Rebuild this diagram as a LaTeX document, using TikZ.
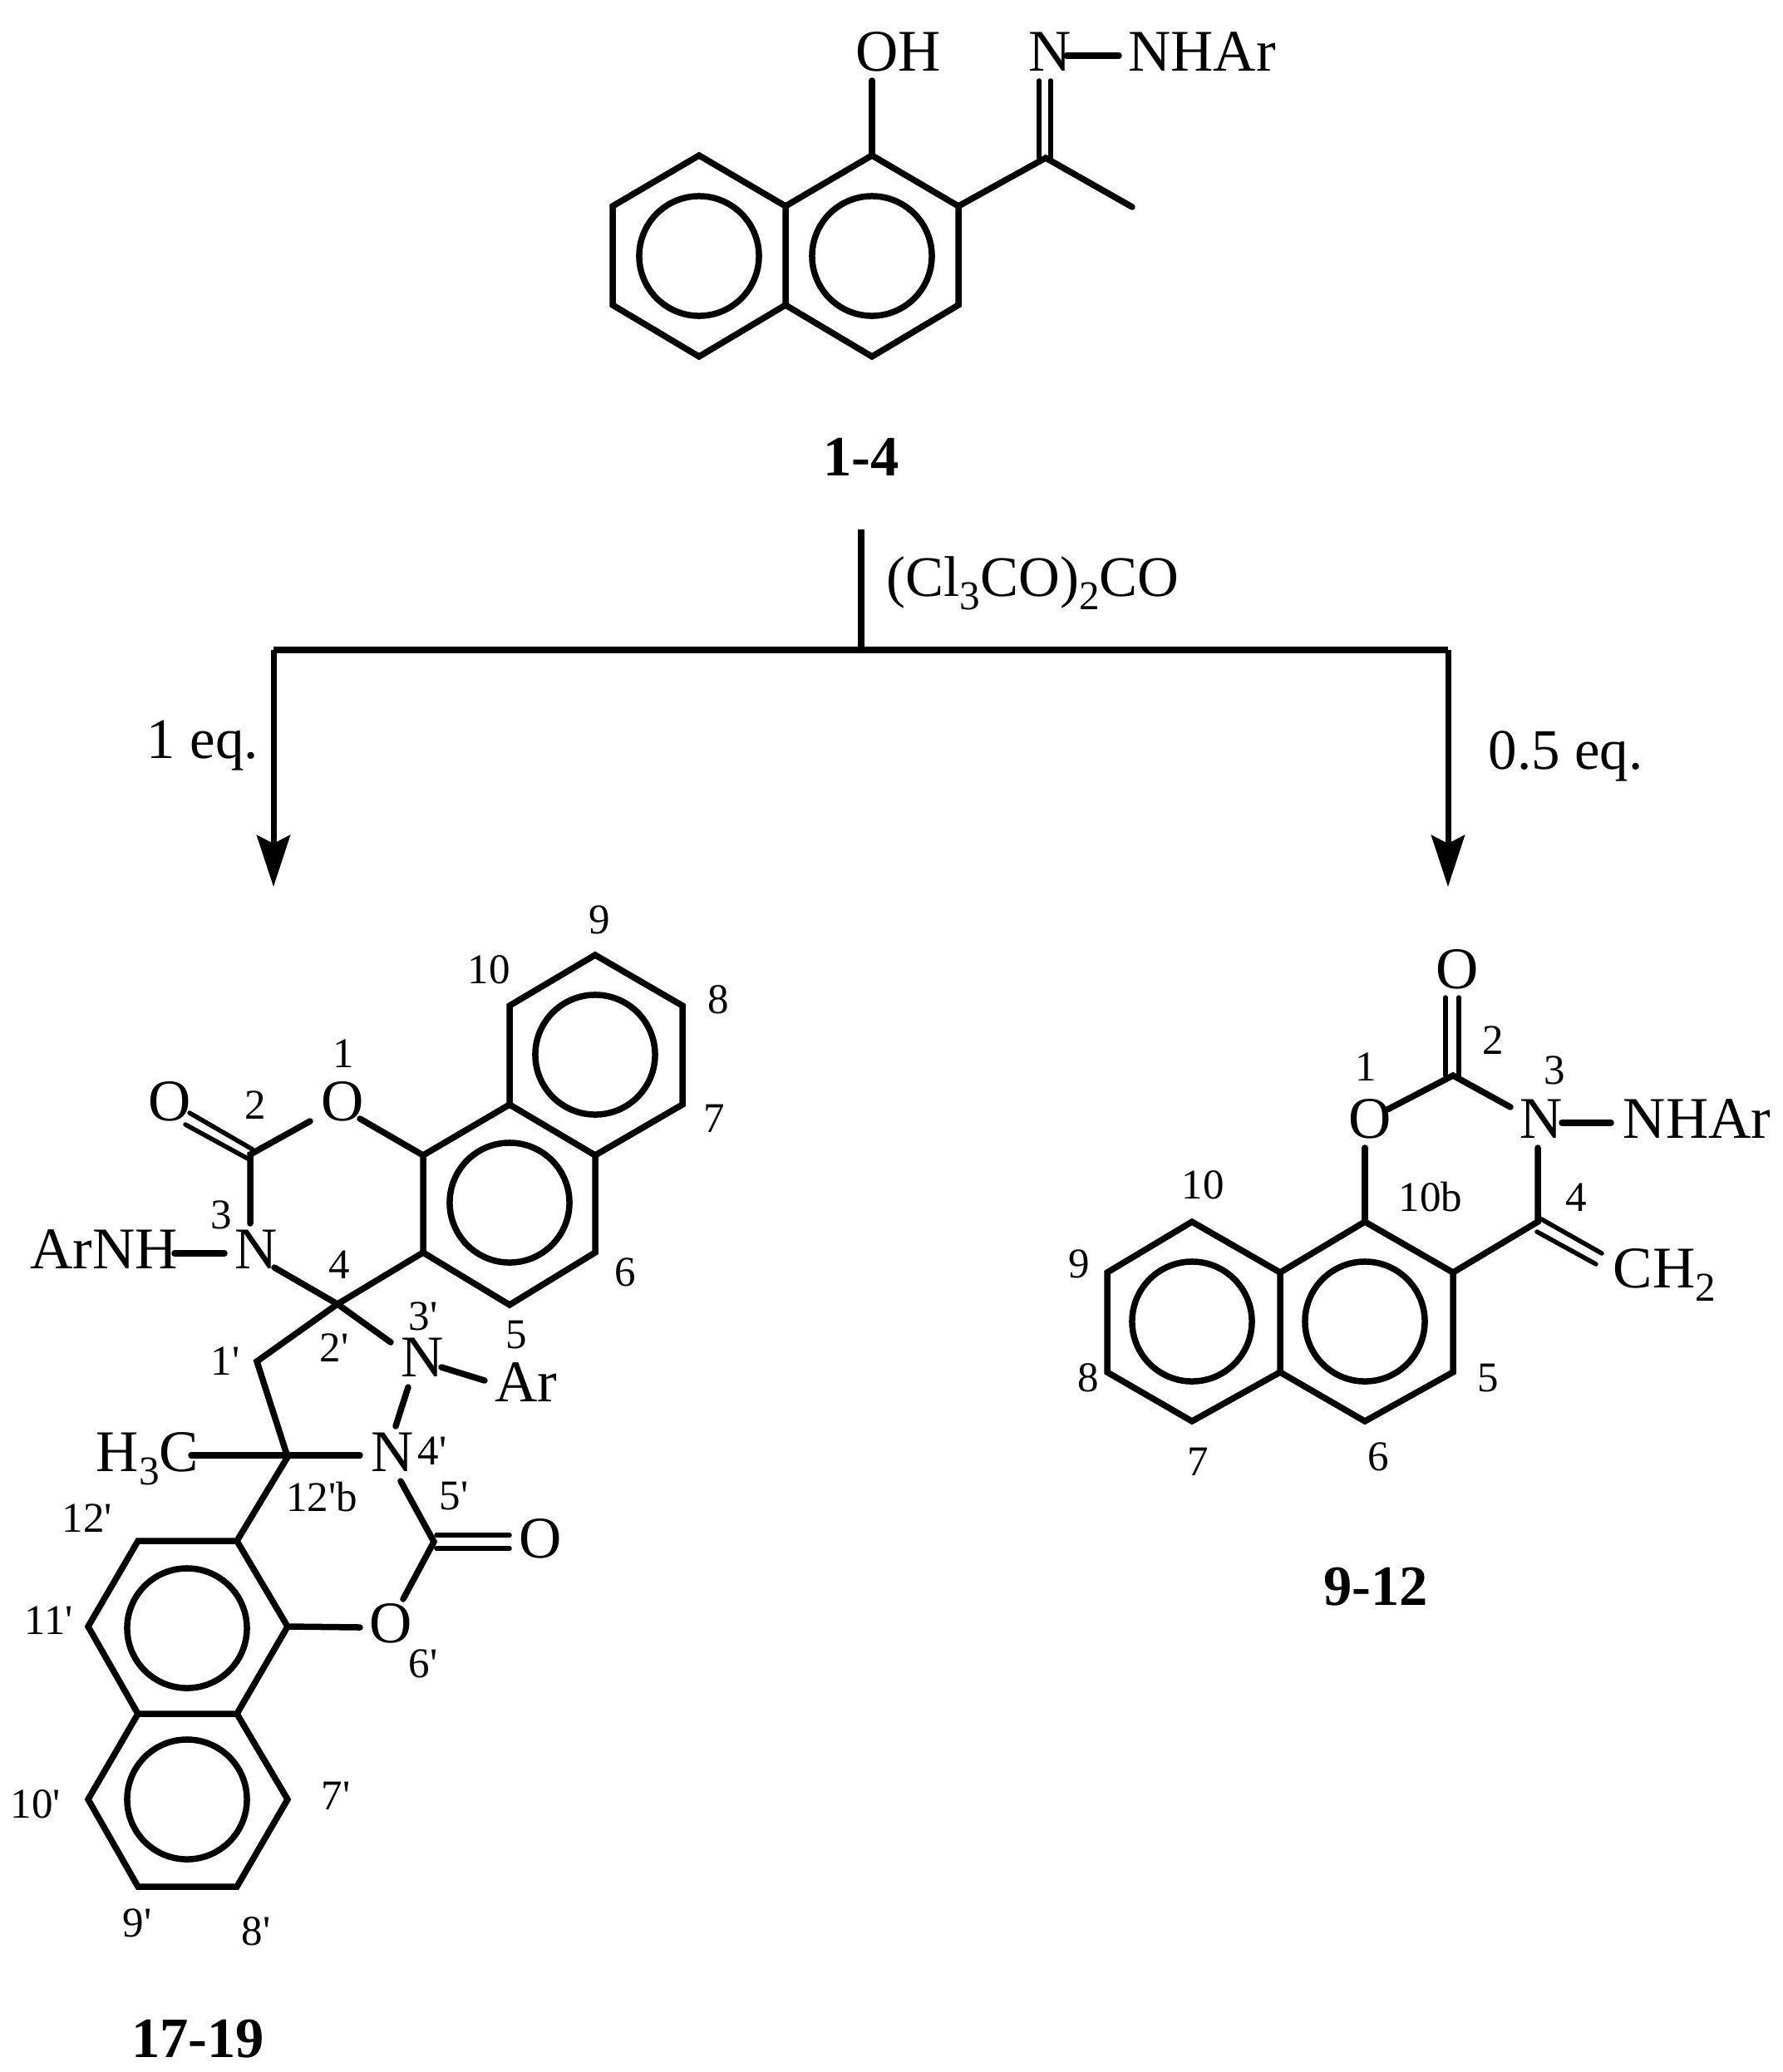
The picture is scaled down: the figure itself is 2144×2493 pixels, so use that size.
\documentclass[tikz,border=0pt]{standalone}
\usepackage{fontspec}
\setmainfont{Liberation Serif}
\usetikzlibrary{arrows.meta}
\newcommand{\pr}{\textquotesingle}
\newcommand{\sbs}[1]{\raisebox{-0.16cm}{\fontsize{14}{14}\selectfont #1}}
\tikzset{bond/.style={line width=0.075cm, line cap=round},
  dbl/.style={line width=0.055cm, line cap=round},
  rxn/.style={line width=0.07cm, -{Stealth[length=0.62cm, width=0.4cm, inset=0.1cm]}},
  atom/.style={anchor=base, inner sep=0pt, font=\fontsize{20.2}{24}\selectfont},
  note/.style={anchor=base west, inner sep=0pt, font=\fontsize{19.6}{24}\selectfont},
  num/.style={anchor=base, inner sep=0pt, font=\fontsize{14.5}{18}\selectfont},
  cmpd/.style={anchor=base, inner sep=0pt, font=\fontsize{19.5}{24}\selectfont\bfseries}}

\begin{document}
\begin{tikzpicture}[x=0.01cm, y=-0.01cm]
  \useasboundingbox (0,0) rectangle (2144,2493);

  \foreach \n/\x/\y in {a1/841/187, a2/945/248, a3/945/367, a4/841/429, a5/737/367, a6/737/248,
    a7/1049/187, a8/1153/248, a9/1153/367, a10/1049/429, ac1/841/308, ac2/1049/308,
    a11/1258/190, a12/1362/249, ao/1049/97, ana/1250/97, anb/1264/97, ama/1250/190, amb/1264/190,
    ah1/1283/67, ah2/1346/67}
    \coordinate (\n) at (\x,\y);

  \draw [bond] (a1) -- (a2) -- (a3) -- (a4) -- (a5) -- (a6) -- cycle;
  \draw [bond] (a2) -- (a7) -- (a8) -- (a9) -- (a10) -- (a3);
  \draw [bond] (ac1) circle (0.72cm);
  \draw [bond] (ac2) circle (0.72cm);
  \draw [bond] (a7) -- (ao);
  \draw [bond] (a8) -- (a11) -- (a12);
  \draw [dbl] (ama) -- (ana);
  \draw [dbl] (amb) -- (anb);
  \draw [bond] (ah1) -- (ah2);

  \node (oh) [atom] at (1081,85) {OH};
  \node (an) [atom] at (1263,85) {N};
  \node (anhar) [atom] at (1446,85) {NHAr};
  \node (la) [cmpd] at (1036,572) {1-4};

  \coordinate (rtop) at (1036,637);
  \coordinate (rmid) at (1036,782);
  \coordinate (rl) at (329,782);
  \coordinate (rr) at (1742,782);
  \coordinate (rlend) at (329,1067);
  \coordinate (rrend) at (1742,1067);
  \draw [bond, line cap=butt] (rtop) -- (rmid);
  \draw [bond, line cap=butt] (rl) -- (rr);
  \draw [rxn] (rl) -- (rlend);
  \draw [rxn] (rr) -- (rrend);
  \node (reag) [note] at (1066,717) {(Cl\sbs{3}CO)\sbs{2}CO};
  \node (eqa) [note] at (176,912) {1 eq.};
  \node (eqb) [note] at (1790,925) {0.5 eq.};

  \foreach \n/\x/\y in {b1/716/1149, b2/821/1210, b3/821/1329, b4/716/1390, b5/613/1329, b6/613/1210,
    b7/716/1507, b8/613/1570, b9/509/1507, b10/509/1390, bc1/716/1269, bc2/613/1447,
    b11/301/1389, b12/406/1569, b13/309/1638, b14/346/1753,
    bo1/373/1349, bo2/433/1346, bn1/301/1472, bn2/330/1525, bn3/470/1615,
    bh1/210/1508, bh2/270/1508, bda/228/1339, bdb/304/1383, bdc/223/1353, bdd/298/1394,
    bar1/531/1645, bar2/583/1661, bnn1/491/1669, bnn2/476/1716,
    bm1/230/1751, bm2/433/1751, bn4/482/1782, b15/522/1855, bo3/485/1924,
    bde/525/1847, bdf/613/1847, bdg/525/1863, bdh/613/1863, bo4/433/1958,
    c1/285/1854, c2/166/1854, c3/106/1957, c4/166/2062, c5/285/2062, c6/346/1957,
    c7/106/2165, c8/166/2270, c9/285/2270, c10/346/2165, cc1/225/1959, cc2/225/2165}
    \coordinate (\n) at (\x,\y);

  \draw [bond] (b1) -- (b2) -- (b3) -- (b4) -- (b7) -- (b8) -- (b9) -- (b10) -- (b5) -- (b6) -- cycle;
  \draw [bond] (b5) -- (b4);
  \draw [bond] (bc1) circle (0.72cm);
  \draw [bond] (bc2) circle (0.72cm);
  \draw [bond] (b10) -- (bo2);
  \draw [bond] (bo1) -- (b11) -- (bn1);
  \draw [dbl] (bda) -- (bdb);
  \draw [dbl] (bdc) -- (bdd);
  \draw [bond] (bh1) -- (bh2);
  \draw [bond] (bn2) -- (b12) -- (b9);
  \draw [bond] (b12) -- (bn3);
  \draw [bond] (b12) -- (b13) -- (b14) -- (c1);
  \draw [bond] (bar1) -- (bar2);
  \draw [bond] (bnn1) -- (bnn2);
  \draw [bond] (bm1) -- (bm2);
  \draw [bond] (bn4) -- (b15) -- (bo3);
  \draw [dbl] (bde) -- (bdf);
  \draw [dbl] (bdg) -- (bdh);
  \draw [bond] (c6) -- (bo4);
  \draw [bond] (c1) -- (c2) -- (c3) -- (c4) -- (c5) -- (c6) -- cycle;
  \draw [bond] (c4) -- (c7) -- (c8) -- (c9) -- (c10) -- (c5);
  \draw [bond] (cc1) circle (0.72cm);
  \draw [bond] (cc2) circle (0.72cm);

  \node (bo) [atom] at (204,1348) {O};
  \node (bring) [atom] at (412,1348) {O};
  \node (bn) [atom] at (308,1526) {N};
  \node (barnh) [atom, anchor=base west] at (36,1526) {ArNH};
  \node (bnp) [atom] at (508,1656) {N};
  \node (bar) [atom] at (633,1686) {Ar};
  \node (bnq) [atom] at (472,1770) {N};
  \node (bme) [atom, anchor=base west] at (115,1770) {H\sbs{3}C};
  \node (bco) [atom] at (650,1874) {O};
  \node (boq) [atom] at (470,1976) {O};
  \node (lb) [cmpd] at (238,2475) {17-19};

  \foreach \n/\x/\y/\t in {m1/413/1284/1, m2/307/1346/2, m3/266/1478/3, m4/408/1538/4, m5/621/1622/5,
    m6/752/1547/6, m7/859/1362/7, m8/864/1219/8, m9/721/1123/9, m10/588/1183/10,
    p1/271/1654/1\pr, p2/402/1638/2\pr, p3/509/1600/3\pr, p4/520/1762/4\pr, p5/546/1816/5\pr, p6/509/2018/6\pr,
    p7/404/2177/7\pr, p8/308/2340/8\pr, p9/165/2330/9\pr, p10/43/2187/10\pr, p11/59/1966/11\pr, p12/105/1843/12\pr,
    p12b/387/1818/12\pr b}
    \node (\n) [num] at (\x,\y) {\t};

  \foreach \n/\x/\y in {d1/1434/1470, d2/1540/1531, d3/1540/1651, d4/1434/1710, d5/1332/1651, d6/1332/1531,
    d7/1642/1470, d8/1748/1531, d9/1748/1651, d10/1642/1710, dc1/1434/1590, dc2/1642/1590,
    d11/1748/1294, d12/1850/1470, do1/1642/1381, do2/1669/1335, dn1/1817/1332, dn2/1850/1381,
    dh1/1879/1351, dh2/1938/1351, dda/1739/1200, ddb/1739/1294, ddc/1755/1200, ddd/1755/1294,
    dde/1851/1465, ddf/1927/1508, ddg/1849/1482, ddh/1920/1521}
    \coordinate (\n) at (\x,\y);

  \draw [bond] (d1) -- (d2) -- (d3) -- (d4) -- (d5) -- (d6) -- cycle;
  \draw [bond] (d2) -- (d7) -- (d8) -- (d9) -- (d10) -- (d3);
  \draw [bond] (dc1) circle (0.72cm);
  \draw [bond] (dc2) circle (0.72cm);
  \draw [bond] (d7) -- (do1);
  \draw [bond] (do2) -- (d11) -- (dn1);
  \draw [dbl] (dda) -- (ddb);
  \draw [dbl] (ddc) -- (ddd);
  \draw [bond] (dh1) -- (dh2);
  \draw [bond] (dn2) -- (d12) -- (d8);
  \draw [dbl] (dde) -- (ddf);
  \draw [dbl] (ddg) -- (ddh);

  \node (dco) [atom] at (1753,1189) {O};
  \node (dring) [atom] at (1648,1369) {O};
  \node (dn) [atom] at (1854,1369) {N};
  \node (dnhar) [atom, anchor=base west] at (1952,1369) {NHAr};
  \node (dch) [atom, anchor=base west] at (1940,1549) {CH\sbs{2}};
  \node (ld) [cmpd] at (1655,1931) {9-12};

  \foreach \n/\x/\y/\t in {q1/1643/1300/1, q2/1796/1268/2, q3/1870/1304/3, q4/1896/1457/4, q5/1790/1674/5,
    q6/1658/1769/6, q7/1441/1775/7, q8/1309/1674/8, q9/1298/1537/9, q10/1447/1442/10, q11/1721/1457/10b}
    \node (\n) [num] at (\x,\y) {\t};
\end{tikzpicture}
\end{document}
